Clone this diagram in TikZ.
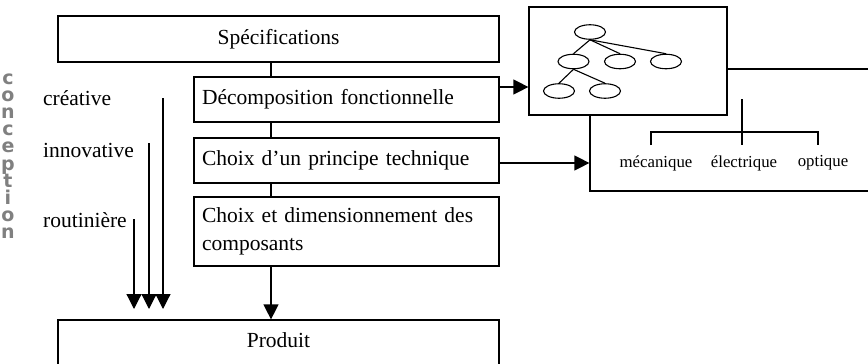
\documentclass[tikz,border=0pt]{standalone}
\usepackage{fontspec}
\setmainfont{Liberation Serif}
\newfontfamily\lettfont{DejaVu Sans}
\usetikzlibrary{arrows.meta,shapes.geometric}
\begin{document}
\begin{tikzpicture}[x=1pt,y=-1pt,
  every node/.style={font=\fontsize{21.5}{28}\selectfont},
  box/.style={draw,line width=1.2pt,fill=white,inner sep=0pt},
  leftbox/.style={box,minimum width=305pt,text width=289pt,align=left,inner xsep=8pt},
  small/.style={font=\fontsize{16.8}{20}\selectfont,inner sep=0pt},
  lbl/.style={anchor=west,inner sep=0pt},
  ell/.style={draw,ellipse,line width=1.1pt,minimum width=31pt,minimum height=14.5pt,inner sep=0pt},
  ln/.style={line width=1.2pt},
  arr/.style={line width=1.2pt,-{Triangle[length=15pt,width=15pt]}},
  lett/.style={font=\lettfont\bfseries\fontsize{19}{19}\selectfont,text=black!50,inner sep=0pt}
]
\useasboundingbox (0,0) rectangle (868,364);
\clip (0,0) rectangle (868,364);

% main column
\node[box,minimum width=441pt,minimum height=46pt] (spec) at (278.5,39) {Spécifications};
\node[leftbox,minimum height=45pt] (dec) at (346.5,99.5) {Décomposition fonctionnelle};
\node[leftbox,minimum height=45pt] (cho) at (346.5,160.5) {Choix d’un principe technique};
\node[leftbox,minimum height=69pt] (dim) at (346.5,231.5) {Choix et dimensionnement des\\composants};
\node[box,minimum width=441pt,minimum height=80pt] (prod) at (278.5,360) {};
\node[inner sep=0pt] (prodtxt) at (278.5,340) {Produit};

\draw[ln] (spec.south -| 271,0) -- (dec.north -| 271,0);
\draw[ln] (dec.south -| 271,0) -- (cho.north -| 271,0);
\draw[ln] (cho.south -| 271,0) -- (dim.north -| 271,0);
\draw[arr] (dim.south -| 271,0) -- (prod.north -| 271,0);

% right side
\node[box,minimum width=290pt,minimum height=122pt] (rb) at (735,130) {};
\node[box,minimum width=198pt,minimum height=108pt] (tree) at (628,61) {};

\draw[arr] ([yshift=12.5pt]dec.east) -- ([yshift=12.5pt]dec.east -| tree.west);
\draw[arr] ([yshift=-2.5pt]cho.east) -- ([yshift=-2.5pt]cho.east -| rb.west);

% tree
\node[ell] (t0) at (590,32) {};
\node[ell] (c1) at (573.5,61.5) {};
\node[ell] (c2) at (620,61.5) {};
\node[ell] (c3) at (666,61.5) {};
\node[ell] (d1) at (559,91) {};
\node[ell] (d2) at (605,91) {};
\draw[line width=1.1pt] (t0.south) -- (c1.north);
\draw[line width=1.1pt] (t0.south) -- (c2.north);
\draw[line width=1.1pt] (t0.south) -- (c3.north);
\draw[line width=1.1pt] (c1.south) -- (d1.north);
\draw[line width=1.1pt] (c1.south) -- (d2.north);

% bracket and labels
\node[small] (mec) at (656,163) {mécanique};
\node[small] (ele) at (744,163) {électrique};
\node[small] (opt) at (823,163) {optique};
\coordinate (btop) at (742,99);
\coordinate (bmid) at (742,132);
\coordinate (bl) at (651,132);
\coordinate (br) at (818,132);
\draw[ln] (btop) -- (742,145);
\draw[ln] (651,145) -- (bl) -- (br) -- (818,145);

% left labels and arrows
\node[lbl] (cre) at (43,98) {créative};
\node[lbl] (inn) at (43,150) {innovative};
\node[lbl] (rou) at (43,220) {routinière};
\coordinate (ct) at (163,98);  \coordinate (cb) at (163,309);
\coordinate (it) at (149,143); \coordinate (ib) at (149,309);
\coordinate (rt) at (134,219); \coordinate (rbt) at (134,309);
\draw[arr] (ct) -- (cb);
\draw[arr] (it) -- (ib);
\draw[arr] (rt) -- (rbt);

% vertical "conception"
\foreach \ch [count=\i from 0] in {c,o,n,c,e,p,t,i,o,n} {
  \node[lett,anchor=base] (l\i) at (8,84+17.2*\i) {\ch};
}
\end{tikzpicture}
\end{document}
